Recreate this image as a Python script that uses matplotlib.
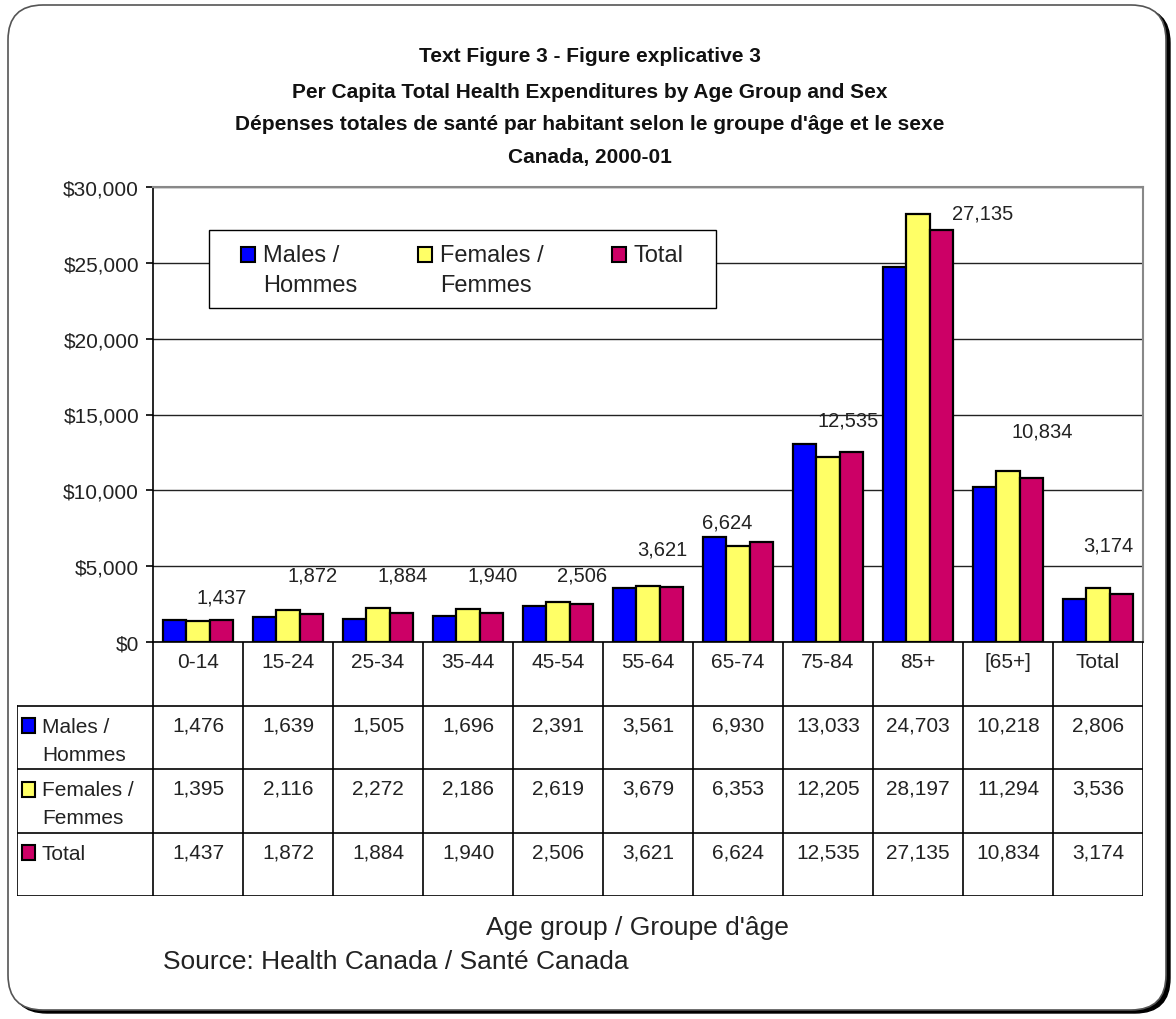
import numpy as np
import matplotlib
matplotlib.use("Agg")
import matplotlib.pyplot as plt
from matplotlib.patches import FancyBboxPatch, Rectangle
from matplotlib.ticker import FuncFormatter, MultipleLocator

plt.rcParams['font.family'] = ['Liberation Sans', 'DejaVu Sans']

#----------------------------------------
#--------data-----------
#----------------------------------------
groups = ["0-14", "15-24", "25-34", "35-44", "45-54", "55-64", "65-74",
          "75-84", "85+", "[65+]", "Total"]
males = [1476, 1639, 1505, 1696, 2391, 3561, 6930, 13033, 24703, 10218, 2806]
females = [1395, 2116, 2272, 2186, 2619, 3679, 6353, 12205, 28197, 11294, 3536]
total = [1437, 1872, 1884, 1940, 2506, 3621, 6624, 12535, 27135, 10834, 3174]
series_names = ["Males /\nHommes", "Females /\nFemmes", "Total"]
colors = ["#0000FF", "#FFFF66", "#CC0066"]

# where Excel dropped the total labels (offset from group centre / bar top)
lab_dx = [0.26, 0.27, 0.27, 0.27, 0.27, 0.16, -0.12, 0.22, 0.72, 0.38, 0.11]
lab_dy = [1550, 2550, 2550, 2450, 1900, 2500, 1300, 2100, 1150, 3100, 3200]

W, H = 1176, 1020


def px(x, y):
    # pixel position (from top-left) -> figure fraction
    return x / W, 1 - y / H


fig = plt.figure(figsize=(W / 100, H / 100), dpi=100)

# outer rounded frame with shadow
fig.patches.append(FancyBboxPatch((0.12, 0.06), 11.58, 10.05,
                                  boxstyle="round,pad=0,rounding_size=0.35",
                                  transform=fig.dpi_scale_trans,
                                  facecolor="black", edgecolor="black", lw=1,
                                  zorder=-5))
fig.patches.append(FancyBboxPatch((0.08, 0.09), 11.58, 10.05,
                                  boxstyle="round,pad=0,rounding_size=0.35",
                                  transform=fig.dpi_scale_trans,
                                  facecolor="white", edgecolor="#555555", lw=1.2,
                                  zorder=-4))

#----------------------------------------
#--------bars-----------
#----------------------------------------
ax = fig.add_axes([153 / W, (H - 643) / H, 990 / W, 455 / H])
ax.patch.set_alpha(0)
x = np.arange(len(groups))
bw = 0.26
all_series = [males, females, total]
for i, vals in enumerate(all_series):
    ax.bar(x + (i - 1) * bw, vals, bw, color=colors[i], edgecolor="black",
           lw=1.6, zorder=3)

for k in range(len(groups)):
    ax.text(x[k] + lab_dx[k], total[k] + lab_dy[k], f"{total[k]:,}",
            ha="center", va="center", fontsize=14.5, color="#222222")

ax.set_xlim(-0.5, len(groups) - 0.5)
ax.set_ylim(0, 30000)
ax.yaxis.set_major_locator(MultipleLocator(5000))
ax.yaxis.set_major_formatter(FuncFormatter(lambda v, p: f"${v:,.0f}"))
ax.tick_params(axis="y", direction="out", length=5, width=1.2, labelsize=15,
               pad=5, labelcolor="#222222")
ax.set_xticks([])
ax.grid(axis="y", color="#222222", lw=1, zorder=0)
for s in ["top", "right"]:
    ax.spines[s].set_color("#888888")
    ax.spines[s].set_lw(1.5)
ax.spines["left"].set_lw(1.2)
ax.spines["bottom"].set_lw(1.2)

#----------------------------------------
#--------legend box (drawn by hand)-----------
#----------------------------------------
fig.patches.append(Rectangle(px(209, 309), 507 / W, 78 / H, transform=fig.transFigure,
                             facecolor="white", edgecolor="black", lw=1, zorder=2))
leg_x = [241, 418, 612]
for i, name in enumerate(series_names):
    fig.patches.append(Rectangle(px(leg_x[i], 263), 14 / W, 15 / H,
                                 transform=fig.transFigure, facecolor=colors[i],
                                 edgecolor="black", lw=1.5, zorder=3))
    for j, line in enumerate(name.split("\n")):
        fig.text(*px(leg_x[i] + 22, 256 + 30 * j), line, ha="left", va="center",
                 fontsize=17, color="#222222", zorder=4)

#----------------------------------------
#--------data table-----------
#----------------------------------------
tx = fig.add_axes([17 / W, (H - 897) / H, (1143 - 17) / W, 254 / H])
xl = -0.5 - 136 / 90
tx.set_xlim(xl, len(groups) - 0.5)
tx.set_ylim(4, 0)
tx.axis("off")
for k in range(len(groups) + 1):
    tx.plot([k - 0.5, k - 0.5], [0, 4], color="black", lw=1.2)
tx.plot([xl, xl], [1, 4], color="black", lw=1.2)
for r in range(1, 5):
    tx.plot([xl, len(groups) - 0.5], [r, r], color="black", lw=1.2)

for k, g in enumerate(groups):
    tx.text(k, 0.3, g, ha="center", va="center", fontsize=15, color="#222222")
    for r, vals in enumerate(all_series):
        tx.text(k, r + 1.3, f"{vals[k]:,}", ha="center", va="center",
                fontsize=15, color="#222222")

for r, name in enumerate(series_names):
    tx.add_patch(Rectangle((xl + 0.06, r + 1.2), 0.135, 0.24, facecolor=colors[r],
                           edgecolor="black", lw=1.5))
    for j, line in enumerate(name.split("\n")):
        tx.text(xl + 0.275, r + 1.33 + 0.44 * j, line, ha="left", va="center",
                fontsize=15, color="#222222")

#----------------------------------------
#--------titles-----------
#----------------------------------------
titles = ["Text Figure 3 - Figure explicative 3",
          "Per Capita Total Health Expenditures by Age Group and Sex",
          "Dépenses totales de santé par habitant selon le groupe d'âge et le sexe",
          "Canada, 2000-01"]
title_y = [57, 92, 125, 157]
for i, t in enumerate(titles):
    fig.text(*px(590, title_y[i]), t, ha="center", va="center",
             fontsize=15, fontweight="bold", color="#111111")

fig.text(*px(637, 928), "Age group / Groupe d'âge", ha="center",
         va="center", fontsize=19, color="#222222")
fig.text(*px(163, 962), "Source: Health Canada / Santé Canada",
         ha="left", va="center", fontsize=19, color="#222222")

fig.savefig("out.png", dpi=100)
